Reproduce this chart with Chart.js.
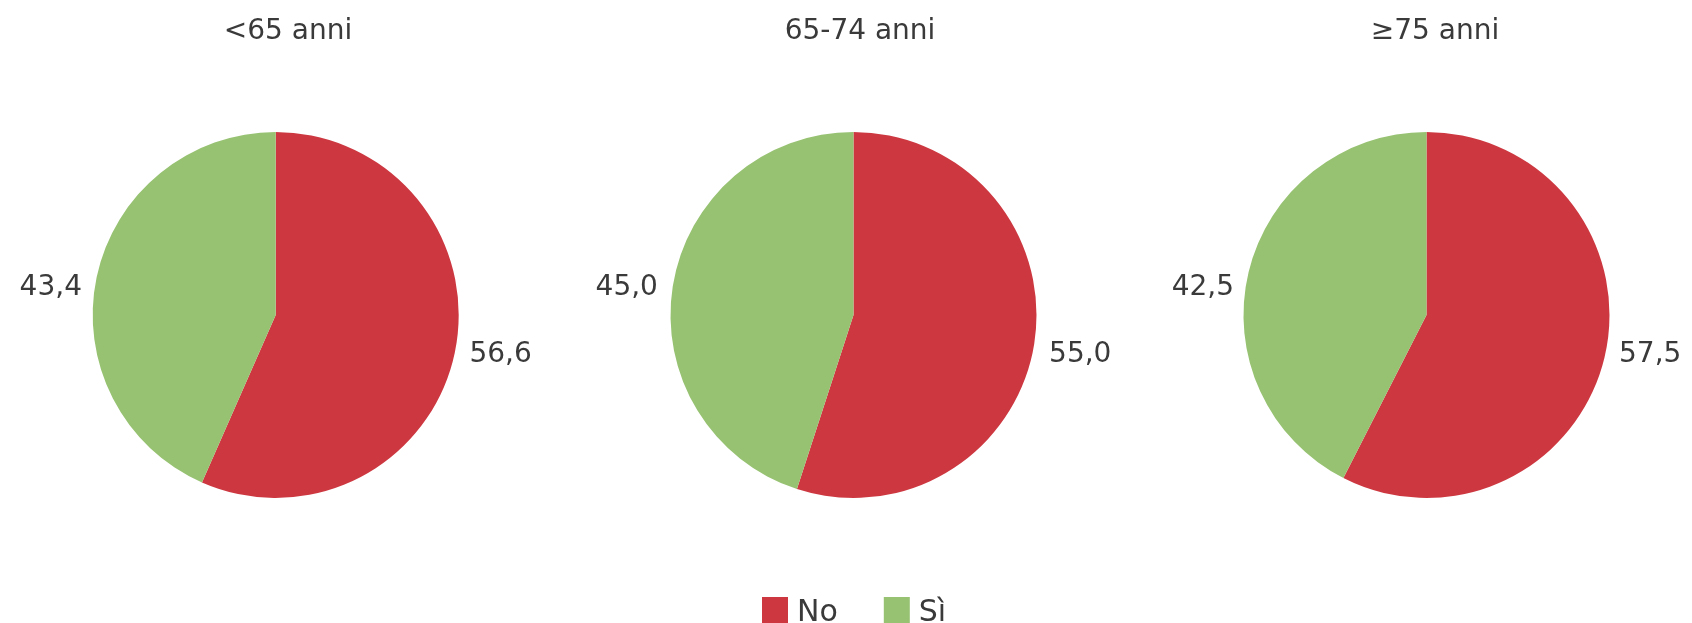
<!DOCTYPE html>
<html>
<head>
<meta charset="utf-8">
<script src="https://cdn.jsdelivr.net/npm/chart.js@4/dist/chart.umd.min.js"></script>
<style>
  html, body { margin: 0; padding: 0; background: #ffffff; }
  #wrap { position: relative; width: 1692px; height: 623px; overflow: hidden; background: #ffffff; }
  #wrap canvas { position: absolute; left: 0; top: 0; }
</style>
</head>
<body>
<div id="wrap">
  <canvas id="c0" width="1692" height="623"></canvas>
  <canvas id="c1" width="1692" height="623"></canvas>
  <canvas id="c2" width="1692" height="623"></canvas>
</div>
<script>
// ---- data ----
const categories = ['No', 'Sì'];
const groups = ['<65 anni', '65-74 anni', '≥75 anni'];
const valuesUnder65 = [56.6, 43.4];
const values65to74 = [55.0, 45.0];
const values75plus = [57.5, 42.5];
const seriesValues = [valuesUnder65, values65to74, values75plus];

// ---- style / layout ----
const colors = ['#CD3840', '#97C272'];
const centersX = [275.7, 853.5, 1426.5];
const titlesX = [288, 860, 1435];
const centerY = 315;
const pieRadius = 183;
const W = 1692, H = 623;
const FONT = '"DejaVu Sans", "Liberation Sans", sans-serif';
const TEXT = '#3a3a3a';
const labelGap = 15;          // distance of labels beyond the pie edge
const labelDyRight = 40;      // vertical placement of labels right of the pie
const labelDyLeft = -27;      // vertical placement of labels left of the pie

function fmt(v) { return v.toFixed(1).replace('.', ','); }

const pieLabels = {
  id: 'pieLabels',
  afterDatasetsDraw(chart, args, opts) {
    const ctx = chart.ctx;
    const meta = chart.getDatasetMeta(0);
    const data = chart.data.datasets[0].data;
    ctx.save();
    ctx.font = '28px ' + FONT;
    ctx.fillStyle = TEXT;
    ctx.textBaseline = 'middle';
    meta.data.forEach((arc, i) => {
      const p = arc.getProps(['x', 'y', 'startAngle', 'endAngle', 'outerRadius'], true);
      const mid = (p.startAngle + p.endAngle) / 2;
      const d = p.outerRadius + labelGap;
      const right = Math.cos(mid) >= 0;
      const x = p.x + Math.cos(mid) * d;
      const y = p.y + (right ? labelDyRight : labelDyLeft);
      ctx.textAlign = right ? 'left' : 'right';
      ctx.fillText(fmt(data[i]), x, y);
    });
    ctx.textAlign = 'center';
    ctx.fillText(opts.title, opts.titleX, 32);
    ctx.restore();
  }
};

const legendPlugin = {
  id: 'bottomLegend',
  afterDraw(chart, args, opts) {
    if (!opts.show) return;
    const ctx = chart.ctx;
    ctx.save();
    ctx.font = '30px ' + FONT;
    ctx.textBaseline = 'alphabetic';
    ctx.textAlign = 'left';
    let x = 762;
    categories.forEach((c, i) => {
      ctx.fillStyle = colors[i];
      ctx.fillRect(x, 597, 26, 26);
      x += 26 + 9;
      ctx.fillStyle = TEXT;
      ctx.fillText(c, x, 621);
      x += ctx.measureText(c).width + 46;
    });
    ctx.restore();
  }
};

seriesValues.forEach((vals, k) => {
  const cx = centersX[k];
  const half = 200;
  new Chart(document.getElementById('c' + k), {
    type: 'pie',
    data: {
      labels: categories,
      datasets: [{
        data: vals,
        backgroundColor: colors,
        borderWidth: 0,
        hoverOffset: 0,
        radius: pieRadius
      }]
    },
    options: {
      responsive: false,
      animation: false,
      events: [],
      layout: {
        padding: {
          left: cx - half,
          right: W - cx - half,
          top: centerY - half,
          bottom: H - centerY - half
        }
      },
      plugins: {
        legend: { display: false },
        tooltip: { enabled: false },
        title: { display: false },
        pieLabels: { title: groups[k], titleX: titlesX[k] },
        bottomLegend: { show: k === 1 }
      }
    },
    plugins: [pieLabels, legendPlugin]
  });
});
</script>
</body>
</html>
